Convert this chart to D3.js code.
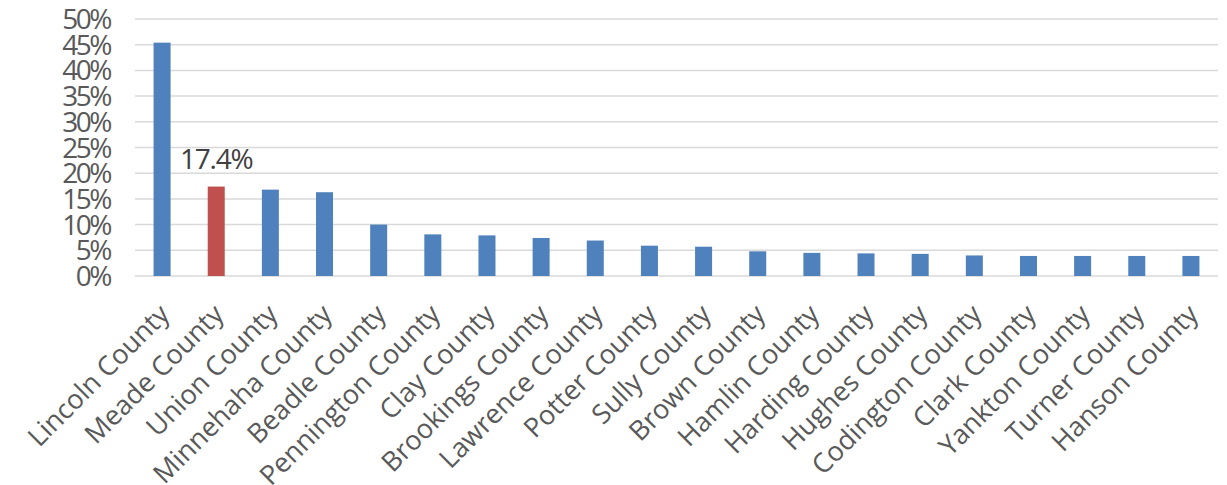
<!DOCTYPE html>
<html>
<head>
<meta charset="utf-8">
<script src="https://cdn.jsdelivr.net/npm/d3@7"></script>
<style>
  body { margin: 0; background: #fff; }
  svg { display: block; font-family: "Open Sans", sans-serif; }
</style>
</head>
<body>
<svg id="drawing_region"></svg>
<script>
const counties = ["Lincoln County", "Meade County", "Union County", "Minnehaha County", "Beadle County",
    "Pennington County", "Clay County", "Brookings County", "Lawrence County", "Potter County",
    "Sully County", "Brown County", "Hamlin County", "Harding County", "Hughes County",
    "Codington County", "Clark County", "Yankton County", "Turner County", "Hanson County"];
const shares = [45.4, 17.4, 16.8, 16.3, 10.0, 8.1, 7.9, 7.4, 6.9, 5.9,
    5.7, 4.8, 4.5, 4.4, 4.3, 4.0, 3.9, 3.9, 3.9, 3.9];
const highlighted = ["Meade County"];
const yTicks = [0, 5, 10, 15, 20, 25, 30, 35, 40, 45, 50];

const config = {
    width: 1227,
    height: 485,
    margin: { top: 19, right: 9, bottom: 209, left: 135 }
};

const data = counties.map((c, i) => ({ county: c, value: shares[i] }));

const svg = d3.select('#drawing_region')
    .attr('width', config.width)
    .attr('height', config.height);

const inner_width = config.width - config.margin.left - config.margin.right;
const inner_height = config.height - config.margin.top - config.margin.bottom;

const chart = svg.append('g')
    .attr('transform', `translate(${config.margin.left}, ${config.margin.top})`);

const x = d3.scaleBand()
    .domain(counties)
    .range([0, inner_width])
    .paddingInner(0.686)
    .paddingOuter(0.343);

const y = d3.scaleLinear()
    .domain([0, 50])
    .range([inner_height, 0]);

// gridlines
chart.selectAll('.grid')
    .data(yTicks)
    .enter()
    .append('line')
    .attr('x1', 0)
    .attr('x2', inner_width)
    .attr('y1', d => y(d))
    .attr('y2', d => y(d))
    .attr('stroke', '#d9d9d9')
    .attr('stroke-width', 1.5);

// y labels
chart.selectAll('.ylab')
    .data(yTicks)
    .enter()
    .append('text')
    .attr('x', -25)
    .attr('y', d => y(d))
    .attr('dy', '0.36em')
    .attr('text-anchor', 'end')
    .attr('fill', '#595959')
    .style('font-size', '28px')
    .style('letter-spacing', '-2.5px')
    .text(d => d + '%');

// bars
chart.selectAll('.bar')
    .data(data)
    .enter()
    .append('rect')
    .attr('x', d => x(d.county))
    .attr('y', d => y(d.value))
    .attr('width', x.bandwidth())
    .attr('height', d => y(0) - y(d.value))
    .attr('fill', d => highlighted.includes(d.county) ? '#C0504D' : '#4F81BD');

// data label
chart.selectAll('.dlab')
    .data(data.filter(d => highlighted.includes(d.county)))
    .enter()
    .append('text')
    .attr('x', d => x(d.county) + x.bandwidth() / 2)
    .attr('y', d => y(d.value) - 18)
    .attr('text-anchor', 'middle')
    .attr('fill', '#404040')
    .style('font-size', '28px')
    .style('letter-spacing', '-1.2px')
    .text(d => d.value.toFixed(1) + '%');

// category labels
chart.selectAll('.xlab')
    .data(counties)
    .enter()
    .append('text')
    .attr('transform', d => `translate(${x(d) + x.bandwidth() / 2 + 9}, ${inner_height + 40}) rotate(-45)`)
    .attr('text-anchor', 'end')
    .attr('fill', '#595959')
    .style('font-size', '27px')
    .text(d => d);
</script>
</body>
</html>
